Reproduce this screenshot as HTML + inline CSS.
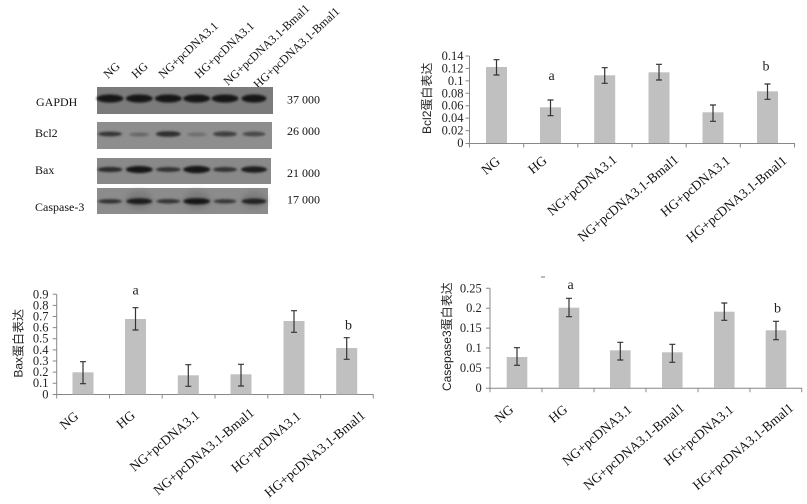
<!DOCTYPE html>
<html><head><meta charset="utf-8"><style>
html,body{margin:0;padding:0;background:#fff;}
svg{display:block;}
.s{font-family:"Liberation Serif","Noto Serif CJK SC",serif;}
.a{font-family:"Liberation Sans","Noto Sans CJK SC",sans-serif;}
</style></head><body>
<svg width="807" height="504" viewBox="0 0 807 504" xmlns="http://www.w3.org/2000/svg">
<defs>
<filter id="bl" x="-20%" y="-50%" width="140%" height="200%"><feGaussianBlur stdDeviation="1.1"/></filter>
<filter id="bl2" x="-20%" y="-50%" width="140%" height="200%"><feGaussianBlur stdDeviation="3"/></filter>
</defs>
<rect width="807" height="504" fill="#fff"/>

<!-- ===== Western blot ===== -->
<g class="s" font-size="12" fill="#111">
<text transform="translate(108,79) rotate(-43)">NG</text>
<text transform="translate(136,79) rotate(-43)">HG</text>
<text transform="translate(163,79) rotate(-43)">NG+pcDNA3.1</text>
<text transform="translate(199,79) rotate(-43)">HG+pcDNA3.1</text>
<text transform="translate(228,86) rotate(-43)">NG+pcDNA3.1-Bmal1</text>
<text transform="translate(258,89) rotate(-43)">HG+pcDNA3.1-Bmal1</text>
</g>
<rect x="97" y="87" width="176" height="27" fill="#7b7b7b"/>
<rect x="97" y="122" width="175" height="27" fill="#8e8e8e"/>
<rect x="97" y="158" width="174" height="26" fill="#898989"/>
<rect x="97" y="188" width="171" height="26" fill="#8c8c8c"/>
<g filter="url(#bl2)" fill="#7a7a7a">
<ellipse cx="139" cy="200" rx="13" ry="9"/>
<ellipse cx="197" cy="200" rx="13" ry="9"/>
<ellipse cx="254" cy="200" rx="12" ry="8"/>
</g>
<g filter="url(#bl)">
<g fill="#141414">
<ellipse cx="110" cy="98.5" rx="13.5" ry="4"/>
<ellipse cx="139.3" cy="98.5" rx="13.5" ry="4"/>
<ellipse cx="168.3" cy="98.5" rx="13.5" ry="4"/>
<ellipse cx="196.7" cy="98.5" rx="13.5" ry="4"/>
<ellipse cx="225" cy="98.5" rx="13.5" ry="4"/>
<ellipse cx="254" cy="98.5" rx="12.5" ry="4"/>
</g>
<ellipse cx="110" cy="134" rx="12" ry="2.4" fill="#353535"/>
<ellipse cx="139.3" cy="134.5" rx="10" ry="2" fill="#666"/>
<ellipse cx="168.3" cy="134" rx="12.5" ry="2.8" fill="#2e2e2e"/>
<ellipse cx="196.7" cy="134.5" rx="10" ry="2" fill="#6e6e6e"/>
<ellipse cx="225" cy="134" rx="12" ry="2.6" fill="#404040"/>
<ellipse cx="254" cy="134" rx="11.5" ry="2.5" fill="#4a4a4a"/>
<ellipse cx="110" cy="169.5" rx="12.5" ry="2.6" fill="#2a2a2a"/>
<ellipse cx="139.3" cy="169.5" rx="13.5" ry="3.5" fill="#161616"/>
<ellipse cx="168.3" cy="169.5" rx="12.5" ry="2.5" fill="#333"/>
<ellipse cx="196.7" cy="169.5" rx="13.5" ry="3.6" fill="#141414"/>
<ellipse cx="225" cy="169.5" rx="12" ry="2.5" fill="#333"/>
<ellipse cx="254" cy="169.5" rx="13" ry="3.2" fill="#1c1c1c"/>
<ellipse cx="110" cy="201.3" rx="12" ry="2.2" fill="#333"/>
<ellipse cx="139.3" cy="201.3" rx="13" ry="3" fill="#1e1e1e"/>
<ellipse cx="168.3" cy="201.3" rx="12" ry="2.3" fill="#353535"/>
<ellipse cx="196.7" cy="201.3" rx="13.5" ry="3.2" fill="#181818"/>
<ellipse cx="225" cy="201.3" rx="11.5" ry="2.2" fill="#383838"/>
<ellipse cx="254" cy="201.3" rx="12.5" ry="2.8" fill="#222"/>
</g>
<g class="s" font-size="12" fill="#111">
<text x="36" y="106">GAPDH</text>
<text x="35" y="137">Bcl2</text>
<text x="35" y="174">Bax</text>
<text x="35" y="211">Caspase-3</text>
<text x="287" y="103.5">37 000</text>
<text x="287" y="135">26 000</text>
<text x="287" y="177">21 000</text>
<text x="287" y="203.5">17 000</text>
</g>

<!-- ===== Chart 2: Bcl2 ===== -->
<g stroke="#888" stroke-width="1" fill="none">
<line x1="469.5" y1="56" x2="469.5" y2="143.5"/>
<line x1="469.5" y1="143.5" x2="795" y2="143.5"/>
<path d="M465.5 56H469.5M465.5 68.4H469.5M465.5 80.9H469.5M465.5 93.3H469.5M465.5 105.7H469.5M465.5 118.1H469.5M465.5 130.6H469.5M465.5 143.5H469.5"/>
<path d="M469.5 143.5V147.5M523.7 143.5V147.5M577.8 143.5V147.5M632 143.5V147.5M686.2 143.5V147.5M740.3 143.5V147.5M794.5 143.5V147.5"/>
</g>
<g fill="#c0c0c0">
<rect x="486" y="67" width="21" height="76"/>
<rect x="540" y="107.3" width="21" height="35.7"/>
<rect x="594.2" y="75.3" width="21" height="67.7"/>
<rect x="648.5" y="72.3" width="21" height="70.7"/>
<rect x="702.5" y="112.3" width="21" height="30.7"/>
<rect x="757" y="91.3" width="21" height="51.7"/>
</g>
<g stroke="#333" stroke-width="1.2" fill="none">
<path d="M496.5 59.7V75M493.5 59.7H499.5M493.5 75H499.5"/>
<path d="M550.5 100V115.7M547.5 100H553.5M547.5 115.7H553.5"/>
<path d="M604.7 67.7V83.3M601.7 67.7H607.7M601.7 83.3H607.7"/>
<path d="M659 64.3V80M656 64.3H662M656 80H662"/>
<path d="M713 105V121.3M710 105H716M710 121.3H716"/>
<path d="M767.5 84V99.3M764.5 84H770.5M764.5 99.3H770.5"/>
</g>
<g class="s" font-size="12.5" fill="#222" text-anchor="end">
<text x="463.5" y="60">0.14</text>
<text x="463.5" y="72.4">0.12</text>
<text x="463.5" y="84.9">0.1</text>
<text x="463.5" y="97.3">0.08</text>
<text x="463.5" y="109.7">0.06</text>
<text x="463.5" y="122.1">0.04</text>
<text x="463.5" y="134.6">0.02</text>
<text x="463.5" y="147">0</text>
</g>
<text class="a" font-size="12" fill="#222" text-anchor="middle" transform="translate(431,98.3) rotate(-90)">Bcl2蛋白表达</text>
<g class="s" font-size="14" fill="#222">
<text x="548.5" y="80">a</text>
<text x="762.5" y="70.5">b</text>
</g>
<g class="s" font-size="13.5" fill="#111" text-anchor="end">
<text transform="translate(501,162.7) rotate(-40)">NG</text>
<text transform="translate(547.7,162) rotate(-40)">HG</text>
<text transform="translate(617.7,161) rotate(-40)">NG+pcDNA3.1</text>
<text transform="translate(679.3,161) rotate(-40)">NG+pcDNA3.1-Bmal1</text>
<text transform="translate(731,162) rotate(-40)">HG+pcDNA3.1</text>
<text transform="translate(787.7,162) rotate(-40)">HG+pcDNA3.1-Bmal1</text>
</g>

<!-- ===== Chart 3: Bax ===== -->
<g stroke="#888" stroke-width="1" fill="none">
<line x1="56.7" y1="294.3" x2="56.7" y2="394.5"/>
<line x1="56.7" y1="394.5" x2="373.5" y2="394.5"/>
<path d="M52.7 294.3H56.7M52.7 305.4H56.7M52.7 316.5H56.7M52.7 327.6H56.7M52.7 338.7H56.7M52.7 349.9H56.7M52.7 361H56.7M52.7 372.1H56.7M52.7 383.2H56.7M52.7 394.5H56.7"/>
<path d="M56.7 394.5V398.5M109.5 394.5V398.5M162.2 394.5V398.5M215 394.5V398.5M267.8 394.5V398.5M320.6 394.5V398.5M373.3 394.5V398.5"/>
</g>
<g fill="#c0c0c0">
<rect x="72.5" y="372.3" width="21" height="22"/>
<rect x="125" y="319" width="21" height="75.3"/>
<rect x="177.8" y="375.3" width="21" height="19"/>
<rect x="230.5" y="374.3" width="21" height="20"/>
<rect x="283.5" y="321" width="21" height="73.3"/>
<rect x="336.2" y="348" width="21" height="46.3"/>
</g>
<g stroke="#333" stroke-width="1.2" fill="none">
<path d="M83 361.7V383.7M80 361.7H86M80 383.7H86"/>
<path d="M135.5 307.7V330M132.5 307.7H138.5M132.5 330H138.5"/>
<path d="M188.3 364.7V386.3M185.3 364.7H191.3M185.3 386.3H191.3"/>
<path d="M241 364.3V386M238 364.3H244M238 386H244"/>
<path d="M294 310.7V332.3M291 310.7H297M291 332.3H297"/>
<path d="M346.7 337.7V359.3M343.7 337.7H349.7M343.7 359.3H349.7"/>
</g>
<g class="s" font-size="12.5" fill="#222" text-anchor="end">
<text x="48.5" y="298.3">0.9</text>
<text x="48.5" y="309.4">0.8</text>
<text x="48.5" y="320.5">0.7</text>
<text x="48.5" y="331.6">0.6</text>
<text x="48.5" y="342.7">0.5</text>
<text x="48.5" y="353.9">0.4</text>
<text x="48.5" y="365">0.3</text>
<text x="48.5" y="376.1">0.2</text>
<text x="48.5" y="387.2">0.1</text>
<text x="48.5" y="398.3">0</text>
</g>
<text class="a" font-size="12" fill="#222" text-anchor="middle" transform="translate(22.5,343.3) rotate(-90)">Bax蛋白表达</text>
<g class="s" font-size="14" fill="#222">
<text x="132.5" y="294.5">a</text>
<text x="345" y="329.3">b</text>
</g>
<g class="s" font-size="13.5" fill="#111" text-anchor="end">
<text transform="translate(79.3,417.7) rotate(-40)">NG</text>
<text transform="translate(136,416.7) rotate(-40)">HG</text>
<text transform="translate(200.3,416.7) rotate(-40)">NG+pcDNA3.1</text>
<text transform="translate(255,414.3) rotate(-40)">NG+pcDNA3.1-Bmal1</text>
<text transform="translate(301.7,417.7) rotate(-40)">HG+pcDNA3.1</text>
<text transform="translate(366,416.7) rotate(-40)">HG+pcDNA3.1-Bmal1</text>
</g>

<!-- ===== Chart 4: Casepase3 ===== -->
<line x1="541" y1="277" x2="545" y2="277" stroke="#777" stroke-width="1"/>
<g stroke="#888" stroke-width="1" fill="none">
<line x1="490" y1="288.3" x2="490" y2="388.3"/>
<line x1="490" y1="388.3" x2="802" y2="388.3"/>
<path d="M486 288.3H490M486 308.2H490M486 328.1H490M486 348H490M486 367.9H490M486 388.3H490"/>
<path d="M490 388.3V392.3M542 388.3V392.3M594 388.3V392.3M646 388.3V392.3M698 388.3V392.3M750 388.3V392.3M801.7 388.3V392.3"/>
</g>
<g fill="#c0c0c0">
<rect x="506.7" y="357" width="20.6" height="31"/>
<rect x="558.7" y="307.7" width="20.6" height="80.3"/>
<rect x="610" y="350.3" width="20.6" height="37.7"/>
<rect x="662" y="352.3" width="20.6" height="35.7"/>
<rect x="714" y="311.7" width="20.6" height="76.3"/>
<rect x="765.7" y="330.3" width="20.6" height="57.7"/>
</g>
<g stroke="#333" stroke-width="1.2" fill="none">
<path d="M517 347.7V365.3M514 347.7H520M514 365.3H520"/>
<path d="M569 298.3V316.7M566 298.3H572M566 316.7H572"/>
<path d="M620.3 342.3V360M617.3 342.3H623.3M617.3 360H623.3"/>
<path d="M672.3 344.3V362.3M669.3 344.3H675.3M669.3 362.3H675.3"/>
<path d="M724.3 303V320.3M721.3 303H727.3M721.3 320.3H727.3"/>
<path d="M776 321.3V339.7M773 321.3H779M773 339.7H779"/>
</g>
<g class="s" font-size="12.5" fill="#222" text-anchor="end">
<text x="481.7" y="292.3">0.25</text>
<text x="481.7" y="312.2">0.2</text>
<text x="481.7" y="332.1">0.15</text>
<text x="481.7" y="352">0.1</text>
<text x="481.7" y="371.9">0.05</text>
<text x="481.7" y="391.8">0</text>
</g>
<text class="a" font-size="12" fill="#222" text-anchor="middle" transform="translate(451,336.7) rotate(-90)">Casepase3蛋白表达</text>
<g class="s" font-size="14" fill="#222">
<text x="567.5" y="289">a</text>
<text x="774" y="312.5">b</text>
</g>
<g class="s" font-size="13.5" fill="#111" text-anchor="end">
<text transform="translate(514.3,411) rotate(-40)">NG</text>
<text transform="translate(568.3,411) rotate(-40)">HG</text>
<text transform="translate(632.7,411) rotate(-40)">NG+pcDNA3.1</text>
<text transform="translate(685,409.3) rotate(-40)">NG+pcDNA3.1-Bmal1</text>
<text transform="translate(734.3,411) rotate(-40)">HG+pcDNA3.1</text>
<text transform="translate(794.3,409.3) rotate(-40)">HG+pcDNA3.1-Bmal1</text>
</g>
</svg>
</body></html>
